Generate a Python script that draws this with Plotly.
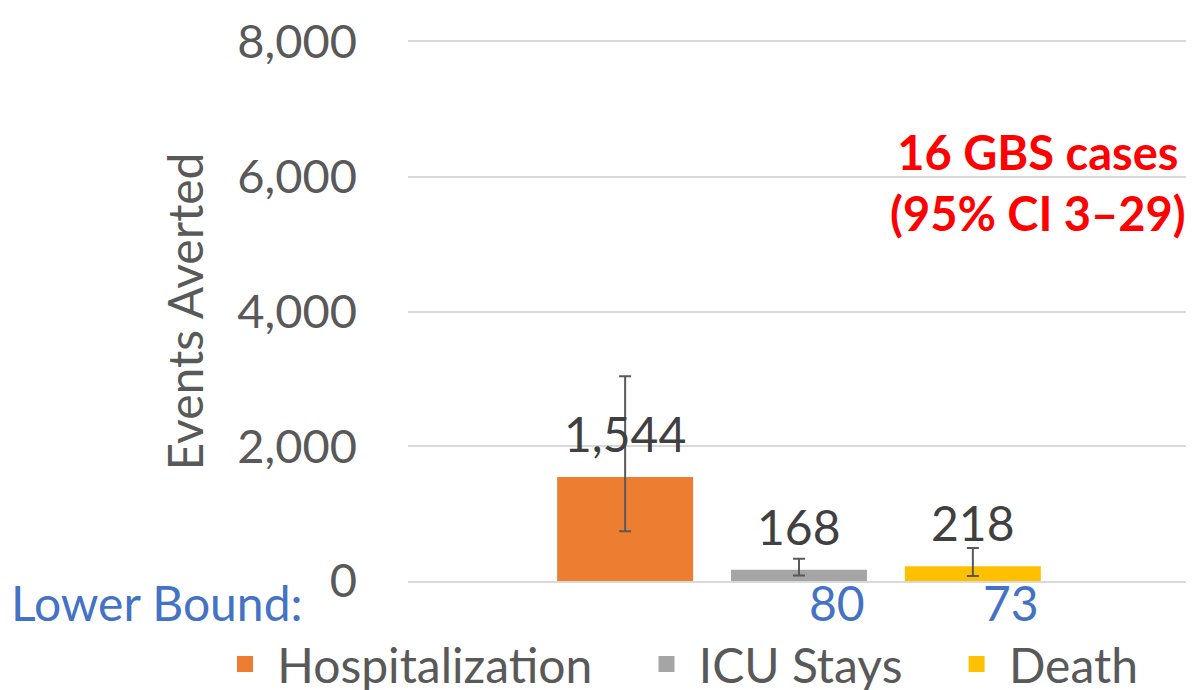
import plotly.graph_objects as go

categories = ["Hospitalization", "ICU Stays", "Death"]
values = [1544, 168, 218]
upper = [3040, 330, 490]
lower = [740, 80, 73]
colors = ["#ED7D31", "#A5A5A5", "#FFC000"]
y_ticks = [0, 2000, 4000, 6000, 8000]
lower_labels = ["", "80", "73"]
note_lines = ["16 GBS cases", "(95% CI 3\u201329)"]

FONT = "Lato"
bargap = 0.333
bargroupgap = 0.218
NBSP = "\u00a0"

fig = go.Figure()
for name, v, hi, lo, c in zip(categories, values, upper, lower, colors):
    fig.add_trace(go.Bar(
        x=[0], y=[v], name=name, marker_color=c, marker_line_width=0,
        error_y=dict(type="data", array=[hi - v], arrayminus=[v - lo],
                     color="#595959", thickness=2, width=6),
        hoverinfo="skip", showlegend=False, legendgroup=name,
    ))
for name, c in zip(categories, colors):
    fig.add_trace(go.Scatter(
        x=[None], y=[None], name=NBSP + name + NBSP * 4, mode="markers",
        legendgroup=name, marker=dict(symbol="square", size=22, color=c),
        showlegend=True,
    ))

slot = (1 - bargap) / len(categories)
annotations = []
for i, (v, lab) in enumerate(zip(values, lower_labels)):
    cx = (i - (len(categories) - 1) / 2) * slot
    annotations.append(dict(x=cx, y=v, xref="x", yref="y", text=f"{v:,}",
                            showarrow=False, yanchor="bottom", yshift=13,
                            font=dict(family=FONT, size=48, color="#404040")))
    if lab:
        annotations.append(dict(x=cx + slot * (1 - bargroupgap) / 2, y=0,
                                xref="x", yref="y", text=lab, showarrow=False,
                                xanchor="right", yanchor="top", yshift=9,
                                font=dict(family=FONT, size=48, color="#4472C4")))

annotations.append(dict(x=-0.51, y=0, xref="paper", yref="y", text="Lower Bound:",
                        showarrow=False, xanchor="left", yanchor="top", yshift=9,
                        font=dict(family=FONT, size=48, color="#4472C4")))
annotations.append(dict(x=0.8056, y=0.739, xref="paper", yref="paper",
                        text="<b>" + "<br>".join(note_lines) + "</b>",
                        showarrow=False, xanchor="center", yanchor="middle", align="center",
                        font=dict(family=FONT, size=47, color="#FF0000")))

# page body has an 8px margin, so the figure is sized/placed to compensate
fig.update_layout(
    width=1186, height=700,
    margin=dict(l=400, r=4, t=29, b=127),
    paper_bgcolor="white", plot_bgcolor="white",
    barmode="group", bargap=bargap, bargroupgap=bargroupgap,
    font=dict(family=FONT, color="#595959"),
    showlegend=True,
    legend=dict(orientation="h", x=-0.234, xanchor="left", y=-0.1544, yanchor="middle",
                font=dict(family=FONT, size=48, color="#595959"),
                itemclick=False, itemdoubleclick=False),
    annotations=annotations,
)
fig.update_xaxes(range=[-0.5, 0.5], showticklabels=False, showgrid=False,
                 zeroline=False, showline=True, mirror=True,
                 linecolor="#D9D9D9", linewidth=2)
fig.update_yaxes(range=[0, 8000], tickvals=y_ticks, tickformat=",",
                 tickfont=dict(family=FONT, size=47, color="#595959"),
                 ticklabeloverflow="allow",
                 gridcolor="#D9D9D9", gridwidth=2, zeroline=False, showline=False,
                 ticklabelstandoff=50,
                 title=dict(text="Events Averted", standoff=18,
                            font=dict(family=FONT, size=48, color="#595959")))

fig.write_html("out.html")
